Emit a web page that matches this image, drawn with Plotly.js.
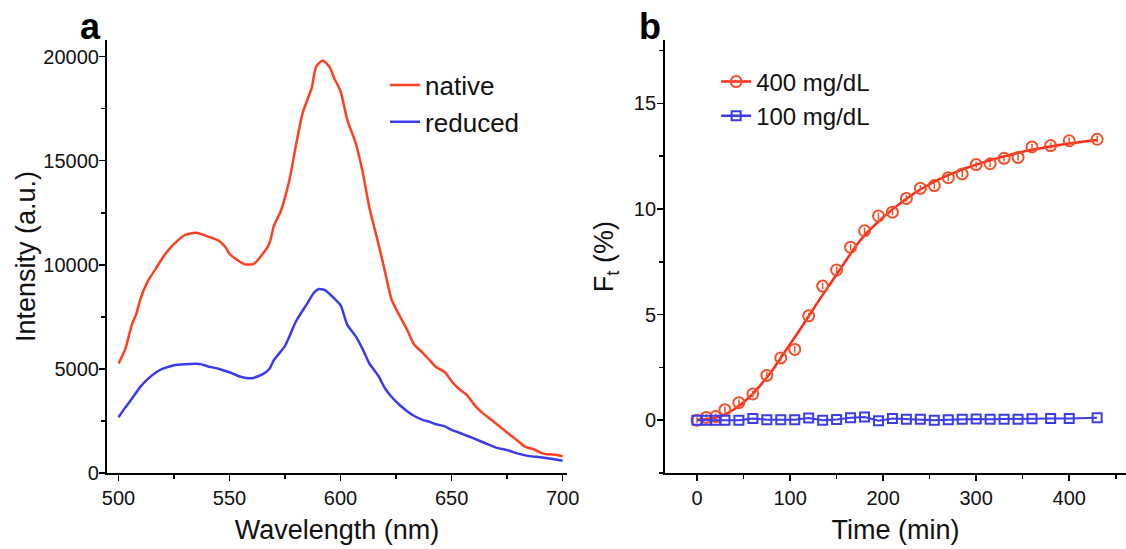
<!DOCTYPE html>
<html>
<head>
<meta charset="utf-8">
<script src="https://cdn.plot.ly/plotly-3.0.1.min.js"></script>
<style>html,body{margin:0;padding:0;background:#fff;}#chart{width:1126px;height:549px;}</style>
</head>
<body>
<div id="chart"></div>
<script>
// Panel a: emission spectra
const wlNative = [500,503,506,508,510,513,517,520,523,527,530,535,540,545,548,550,553,557,561,565,568,570,573,577,580,583,587,589,592,595,597,600,603,607,610,613,617,620,623,627,630,633,637,640,643,647,650,653,657,660,663,667,670,673,677,680,683,687,690,693,697,700];
const native = [5260,5940,7130,7640,8400,9170,9850,10360,10780,11200,11440,11540,11370,11170,10870,10530,10270,10020,10050,10530,11040,11880,12560,14090,15790,17320,18500,19520,19810,19520,19000,18340,16980,15790,14430,12730,11040,9680,8320,7470,6880,6200,5770,5430,5090,4840,4410,4070,3740,3310,2970,2630,2380,2120,1780,1530,1270,1140,980,900,880,800];
const wlReduced = [500,503,506,510,513,517,520,525,530,535,537,540,545,550,555,560,565,568,570,575,580,585,588,590,593,597,600,603,607,610,613,617,620,623,627,630,633,637,640,643,647,650,655,660,665,670,675,680,685,690,695,700];
const reduced = [2680,3140,3570,4160,4500,4840,5010,5180,5230,5250,5230,5130,5010,4840,4620,4550,4750,5010,5430,6110,7300,8150,8660,8830,8790,8400,8060,7130,6540,5940,5260,4670,4070,3650,3230,2970,2750,2550,2460,2340,2240,2070,1870,1660,1440,1220,1100,930,810,760,680,590];

// Panel b: kinetics
const tTime = [0,10,20,30,45,60,75,90,105,120,135,150,165,180,195,210,225,240,255,270,285,300,315,330,345,360,380,400,430];
const f400 = [0,0.13,0.17,0.5,0.83,1.24,2.12,2.95,3.35,4.94,6.35,7.11,8.19,8.97,9.67,9.85,10.5,10.98,11.11,11.48,11.66,12.1,12.14,12.4,12.44,12.94,13.0,13.23,13.3];
const f100 = [0,0,0,0,0,0.08,0.02,0.02,0.02,0.1,0,0.03,0.12,0.15,-0.03,0.08,0.05,0.05,0,0.02,0.05,0.06,0.05,0.05,0.04,0.07,0.08,0.08,0.12];
const tFit = [0,10,20,30,40,50,60,70,80,90,100,110,120,130,140,150,160,170,180,190,200,210,220,230,240,250,260,270,280,290,300,320,340,360,380,400,430];
const fFit = [0.02,0.05,0.12,0.28,0.52,0.85,1.25,1.75,2.3,2.95,3.6,4.25,4.92,5.6,6.25,6.9,7.55,8.2,8.75,9.2,9.6,9.98,10.32,10.64,10.92,11.17,11.4,11.6,11.78,11.95,12.1,12.37,12.6,12.8,12.96,13.1,13.27];

const seriesNames = ['native','reduced','400 mg/dL','100 mg/dL'];

const FONT = 'Liberation Sans, Arial, sans-serif';
const cNative = '#FF3F1F', cReduced = '#3A3AF0', cRed = '#FF2A1A', cMark = '#F5502A', cBlue = '#3C3CEE';

const traces = [
  {x: wlNative, y: native, type:'scatter', mode:'lines', name: seriesNames[0], line:{color:cNative, width:2.5, shape:'spline', smoothing:0.6}, xaxis:'x', yaxis:'y', legend:'legend'},
  {x: wlReduced, y: reduced, type:'scatter', mode:'lines', name: seriesNames[1], line:{color:cReduced, width:2.5, shape:'spline', smoothing:0.6}, xaxis:'x', yaxis:'y', legend:'legend'},
  {x: tFit, y: fFit, type:'scatter', mode:'lines', line:{color:cRed, width:2.5, shape:'spline'}, showlegend:false, xaxis:'x2', yaxis:'y2'},
  {x: tTime, y: f400, type:'scatter', mode:'markers', showlegend:false, marker:{symbol:'circle-open', size:11, color:cMark, line:{width:2, color:cMark}},
   error_y:{type:'constant', value:0.15, width:0, thickness:1.5, color:cMark}, xaxis:'x2', yaxis:'y2'},
  {x: tTime, y: f100, type:'scatter', mode:'lines+markers', showlegend:false, line:{color:cBlue, width:2}, marker:{symbol:'square-open', size:9, color:cBlue, line:{width:2, color:cBlue}}, xaxis:'x2', yaxis:'y2'},
  {x:[null], y:[null], type:'scatter', mode:'lines+markers', name: seriesNames[2], line:{color:cRed, width:2.5}, marker:{symbol:'circle-open', size:11, color:cMark, line:{width:2,color:cMark}}, xaxis:'x2', yaxis:'y2', legend:'legend2'},
  {x:[null], y:[null], type:'scatter', mode:'lines+markers', name: seriesNames[3], line:{color:cBlue, width:2.5}, marker:{symbol:'square-open', size:9, color:cBlue, line:{width:2,color:cBlue}}, xaxis:'x2', yaxis:'y2', legend:'legend2'}
];

const axBase = {showline:true, linecolor:'#000', linewidth:2, ticks:'outside', ticklen:6, tickwidth:1.5, tickcolor:'#000',
  showgrid:false, zeroline:false, mirror:false, tickfont:{family:FONT, size:20, color:'#111'}};
const titleFont = {family:FONT, size:27, color:'#111'};

const layout = {
  width:1126, height:549,
  margin:{l:0, r:0, t:40, b:76},
  paper_bgcolor:'#fff', plot_bgcolor:'#fff',
  font:{family:FONT, color:'#111'},
  xaxis: Object.assign({}, axBase, {domain:[0.095, 0.5036], range:[494.8, 702], dtick:50, tick0:500,
    minor:{dtick:25, ticklen:4, tickwidth:1.5, tickcolor:'#000', ticks:'outside'},
    title:{text:'Wavelength (nm)', font:titleFont, standoff:12}, anchor:'y'}),
  yaxis: Object.assign({}, axBase, {domain:[0,1], range:[0, 20800], dtick:5000, tick0:0, tickformat:'d', ticklabelstandoff:-4,
    minor:{dtick:2500, ticklen:4, tickwidth:1.5, tickcolor:'#000', ticks:'outside'},
    title:{text:'Intensity (a.u.)', font:titleFont, standoff:0}, anchor:'x'}),
  xaxis2: Object.assign({}, axBase, {domain:[0.5906, 1], range:[-34.4, 461], dtick:100, tick0:0,
    minor:{dtick:50, ticklen:4, tickwidth:1.5, tickcolor:'#000', ticks:'outside'},
    title:{text:'Time (min)', font:titleFont, standoff:12}, anchor:'y2'}),
  yaxis2: Object.assign({}, axBase, {domain:[0,1], range:[-2.5, 18], dtick:5, tick0:0, ticklabelstandoff:-3,
    minor:{dtick:2.5, ticklen:4, tickwidth:1.5, tickcolor:'#000', ticks:'outside'},
    title:{text:'F<sub>t</sub> (%)', font:titleFont, standoff:12}, anchor:'x2'}),
  legend:{x:0.342, y:0.95, xanchor:'left', yanchor:'top', bgcolor:'rgba(0,0,0,0)', borderwidth:0,
    font:{family:FONT, size:26, color:'#111'}, tracegroupgap:0},
  legend2:{x:0.636, y:0.955, xanchor:'left', yanchor:'top', bgcolor:'rgba(0,0,0,0)', borderwidth:0,
    font:{family:FONT, size:24, color:'#111'}, tracegroupgap:0},
  annotations:[
    {text:'<b>a</b>', xref:'paper', yref:'paper', x:0.08, y:1.0, yshift:14, xanchor:'center', yanchor:'middle', showarrow:false, font:{family:FONT, size:36, color:'#000'}},
    {text:'<b>b</b>', xref:'paper', yref:'paper', x:0.577, y:1.0, yshift:14, xanchor:'center', yanchor:'middle', showarrow:false, font:{family:FONT, size:36, color:'#000'}}
  ],
  showlegend:true
};

Plotly.newPlot('chart', traces, layout, {displayModeBar:false, staticPlot:true});
</script>
</body>
</html>
